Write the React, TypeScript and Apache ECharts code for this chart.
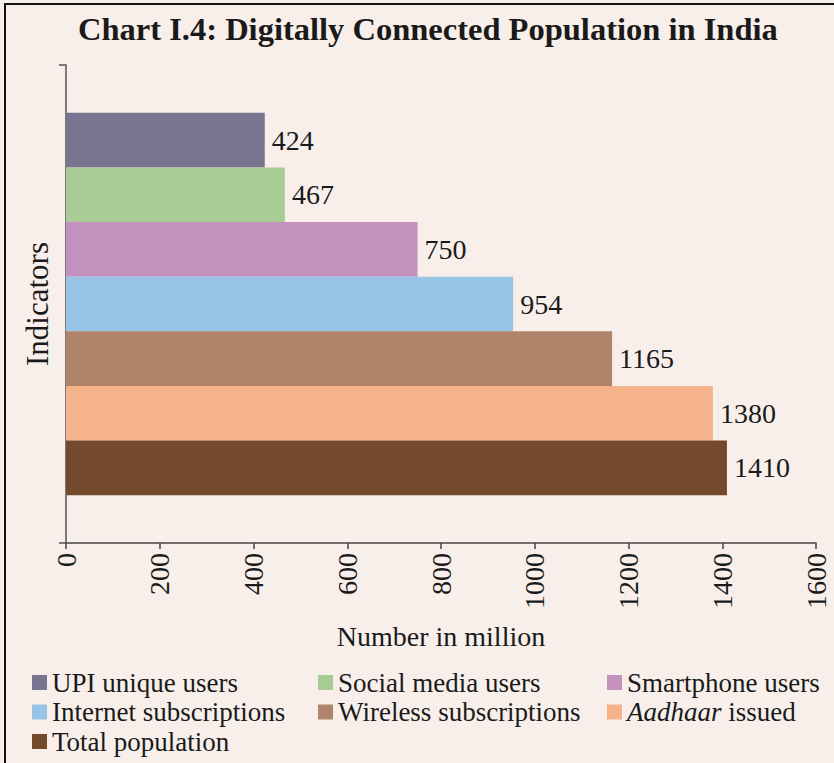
import React, { useEffect, useRef } from "react";
import * as echarts from "echarts";

const seriesNames = [
  "UPI unique users",
  "Social media users",
  "Smartphone users",
  "Internet subscriptions",
  "Wireless subscriptions",
  "Aadhaar issued",
  "Total population",
];
const seriesValues = [424, 467, 750, 954, 1165, 1380, 1410];
const seriesColors = ["#797490", "#a9cb95", "#c491bf", "#98c4e6", "#b0846b", "#f4b38b", "#744a2c"];
const xTicks = { min: 0, max: 1600, interval: 200 };

const SERIF = "'Liberation Serif', 'DejaVu Serif', serif";
const BG = "#f8efea";

export default function App() {
  const ref = useRef<HTMLDivElement>(null);
  useEffect(() => {
    if (!ref.current) return;
    const chart = echarts.init(ref.current, null, { renderer: "svg" });
    const legendText = {
      fontFamily: SERIF,
      fontSize: 27,
      color: "#1a1a1a",
      rich: { i: { fontFamily: SERIF, fontSize: 27, fontStyle: "italic", color: "#1a1a1a" } },
    };
    const fmt = (n: string) => (n === "Aadhaar issued" ? "{i|Aadhaar} issued" : n);
    const mkLegend = (names: string[], left: number) => ({
      orient: "vertical",
      left,
      top: 669,
      height: 200,
      padding: 0,
      itemWidth: 15,
      itemHeight: 15,
      itemGap: 2.5,
      icon: "rect",
      data: names,
      formatter: fmt,
      textStyle: legendText,
      selectedMode: false,
    });
    chart.setOption({
      animation: false,
      backgroundColor: BG,
      title: {
        text: "Chart I.4: Digitally Connected Population in India",
        left: 78,
        top: 12,
        padding: 0,
        textStyle: { fontFamily: SERIF, fontWeight: "bold", fontSize: 32.5, color: "#1a1a1a" },
      },
      graphic: [
        {
          type: "rect",
          shape: { x: 5, y: 4, width: 900, height: 900 },
          style: { fill: "none", stroke: "#111", lineWidth: 2 },
          silent: true,
        },
      ],
      legend: [
        mkLegend([seriesNames[0], seriesNames[3], seriesNames[6]], 32),
        mkLegend([seriesNames[1], seriesNames[4]], 318),
        mkLegend([seriesNames[2], seriesNames[5]], 607),
      ],
      grid: { left: 66, right: 18, top: 65, bottom: 220 },
      xAxis: {
        type: "value",
        min: xTicks.min,
        max: xTicks.max,
        interval: xTicks.interval,
        name: "Number in million",
        nameLocation: "middle",
        nameGap: 79,
        nameTextStyle: { fontFamily: SERIF, fontSize: 28, color: "#1a1a1a" },
        axisLine: { show: true, lineStyle: { color: "#444", width: 1.5 } },
        axisTick: { show: true, length: 6, lineStyle: { color: "#444", width: 1.5 } },
        splitLine: { show: false },
        axisLabel: {
          rotate: 90,
          margin: 10,
          fontFamily: SERIF,
          fontSize: 28,
          color: "#1a1a1a",
          formatter: (v: number) => String(v),
        },
      },
      yAxis: {
        type: "category",
        data: [""],
        inverse: true,
        name: "Indicators",
        nameLocation: "middle",
        nameGap: 13,
        nameRotate: 90,
        nameTextStyle: { fontFamily: SERIF, fontSize: 31, color: "#1a1a1a" },
        axisLine: { show: true, lineStyle: { color: "#555", width: 1.5 } },
        axisTick: { show: true, length: 7, lineStyle: { color: "#555", width: 1.5 } },
        axisLabel: { show: false },
      },
      series: seriesNames.map((name, i) => ({
        name,
        type: "bar",
        data: [seriesValues[i]],
        barGap: "0%",
        barCategoryGap: "20%",
        itemStyle: { color: seriesColors[i] },
        label: {
          show: true,
          position: "right",
          distance: 7,
          fontFamily: SERIF,
          fontSize: 28,
          color: "#1a1a1a",
        },
      })),
    });
    return () => chart.dispose();
  }, []);
  return (
    <div
      ref={ref}
      style={{ position: "fixed", left: 0, top: 0, width: 834, height: 763, background: BG }}
    />
  );
}
